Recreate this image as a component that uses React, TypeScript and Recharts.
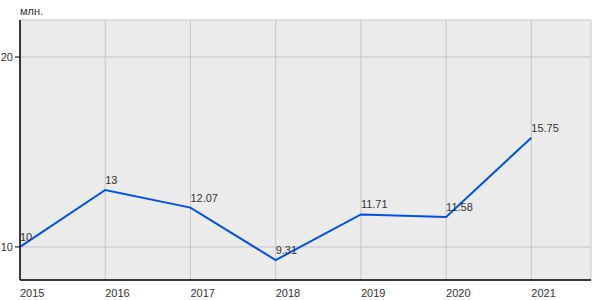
import { LineChart, Line, XAxis, YAxis, CartesianGrid, LabelList } from 'recharts'

const years = [2015, 2016, 2017, 2018, 2019, 2020, 2021]
const values = [10, 13, 12.07, 9.31, 11.71, 11.58, 15.75]
const yTicks = [10, 20]

const data = years.map((year, i) => ({ year, value: values[i] }))

const font = '"Liberation Sans", Arial, sans-serif'

const XTick = ({ x, y, payload }: any) => (
  <text x={x} y={y + 9} fontSize={11} fontFamily={font} fill="#333" textAnchor="start">
    {payload.value}
  </text>
)

const PointLabel = ({ x, y, value }: any) => (
  <text x={x} y={y - 6} fontSize={11} fontFamily={font} fill="#333" textAnchor="start">
    {value}
  </text>
)

export default function App() {
  return (
    <div style={{ position: 'fixed', left: 0, top: 0, width: 600, height: 300, background: '#fff' }}>
      <div style={{ position: 'absolute', left: 20, top: 5, fontSize: 11, fontFamily: font, color: '#333' }}>
        млн.
      </div>
      <LineChart width={600} height={300} data={data} margin={{ top: 20, right: 9, left: 0, bottom: 0 }}>
        <CartesianGrid fill="#ebebeb" stroke="#c6c6c6" strokeWidth={1} />
        <XAxis
          dataKey="year"
          type="number"
          domain={[2015, 2021.7]}
          ticks={years}
          height={20}
          tick={<XTick />}
          tickLine={false}
          axisLine={{ stroke: '#000', strokeWidth: 1.5 }}
        />
        <YAxis
          type="number"
          domain={[8.26, 21.95]}
          ticks={yTicks}
          width={20}
          tickSize={5}
          tickMargin={2}
          tick={{ fontSize: 11, fontFamily: font, fill: '#333' }}
          tickLine={{ stroke: '#000' }}
          axisLine={{ stroke: '#000', strokeWidth: 1.5 }}
        />
        <Line
          type="linear"
          dataKey="value"
          stroke="#0050e6"
          strokeWidth={2}
          dot={false}
          activeDot={false}
          isAnimationActive={false}
        >
          <LabelList dataKey="value" content={<PointLabel />} />
        </Line>
      </LineChart>
    </div>
  )
}
